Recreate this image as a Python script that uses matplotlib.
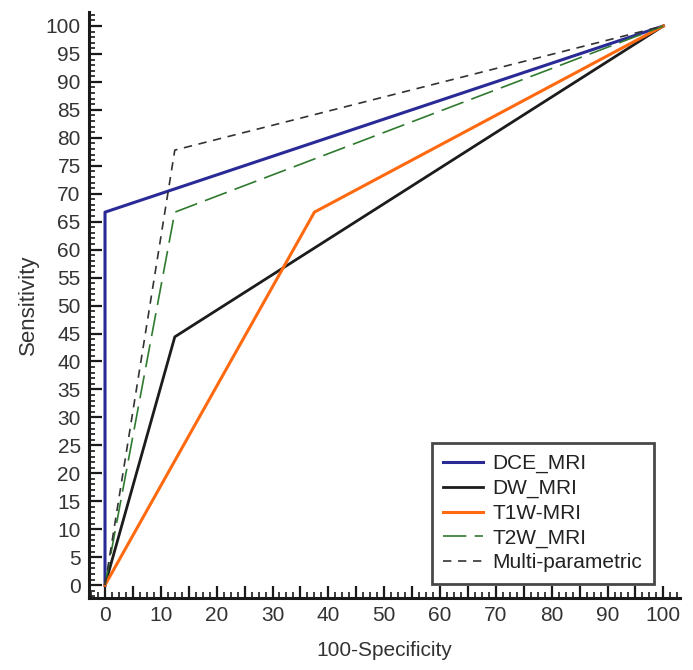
import matplotlib.pyplot as plt
from matplotlib.ticker import MultipleLocator, FuncFormatter

plt.rcParams['font.family'] = ['Liberation Sans', 'DejaVu Sans']

# ROC curves (100-Specificity, Sensitivity)
dce_x = [0, 0, 100]
dce_y = [0, 66.7, 100]
dw_x = [0, 12.5, 100]
dw_y = [0, 44.4, 100]
t1w_x = [0, 37.5, 100]
t1w_y = [0, 66.7, 100]
t2w_x = [0, 12.5, 100]
t2w_y = [0, 66.7, 100]
multi_x = [0, 12.5, 100]
multi_y = [0, 77.8, 100]

fig = plt.figure(figsize=(6.93, 6.70), dpi=100)
ax = fig.add_axes([0.1284, 0.1075, 0.853, 0.8746])

ax.plot(dce_x, dce_y, color="#2a2a96", lw=2.2, label="DCE_MRI", zorder=3)
ax.plot(dw_x, dw_y, color="#1c1c1c", lw=2.0, label="DW_MRI", zorder=3)
ax.plot(t1w_x, t1w_y, color="#ff6a10", lw=2.2, label="T1W-MRI", zorder=3)
ax.plot(t2w_x, t2w_y, color="#2f7a2f", lw=1.2, dashes=(14, 5), label="T2W_MRI", zorder=3)
ax.plot(multi_x, multi_y, color="#333333", lw=1.2, dashes=(5, 4), label="Multi-parametric", zorder=3)

ax.set_xlim(-2.87, 103)
ax.set_ylim(-2.3, 102.5)

ax.xaxis.set_major_locator(MultipleLocator(5))
ax.xaxis.set_major_formatter(FuncFormatter(lambda v, p: "%d" % v if round(v) % 10 == 0 else ""))
ax.xaxis.set_minor_locator(MultipleLocator(1.25))
ax.yaxis.set_major_locator(MultipleLocator(5))
ax.yaxis.set_minor_locator(MultipleLocator(1))

for side in ["top", "right"]:
    ax.spines[side].set_visible(False)
for side in ["left", "bottom"]:
    ax.spines[side].set_linewidth(2.2)
    ax.spines[side].set_color("#1a1a1a")

ax.tick_params(which="major", direction="in", length=9, width=1.6, color="#1a1a1a",
               labelsize=15, labelcolor="#333333", pad=6)
ax.tick_params(which="minor", direction="in", length=4, width=1.2, color="#1a1a1a")

ax.set_xlabel("100-Specificity", fontsize=15, color="#333333", labelpad=11)
ax.set_ylabel("Sensitivity", fontsize=16, color="#333333", labelpad=5)

leg = ax.legend(loc="lower right", bbox_to_anchor=(0.955, 0.024), borderaxespad=0,
                fontsize=15, frameon=True, fancybox=False, edgecolor="#1a1a1a",
                handlelength=1.9, handletextpad=0.45, borderpad=0.55, labelspacing=0.27)
leg.get_frame().set_linewidth(2)
for text in leg.get_texts():
    text.set_color("#222222")

plt.savefig("out.png", dpi=100)
